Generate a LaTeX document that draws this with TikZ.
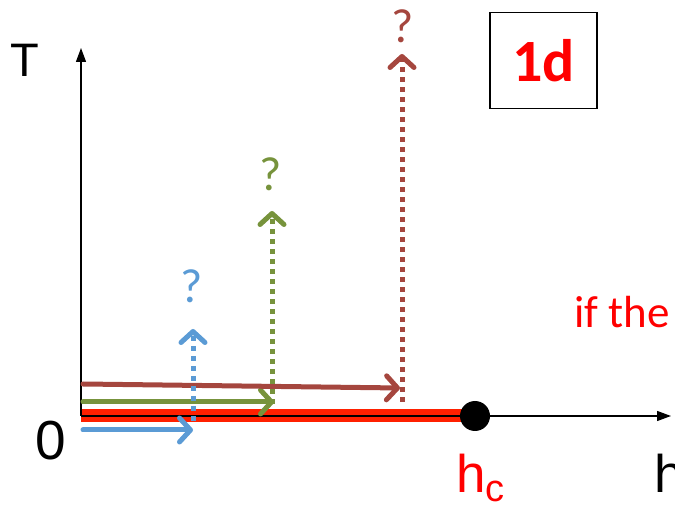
\documentclass[tikz,border=0pt]{standalone}
\usepackage{fontspec}
\setmainfont{Carlito}
\newfontfamily\arialf{Liberation Sans}
\usetikzlibrary{arrows.meta}
\definecolor{cblue}{RGB}{91,155,213}
\definecolor{cgreen}{RGB}{119,147,60}
\definecolor{cbrown}{RGB}{165,70,62}
\definecolor{cred}{RGB}{255,32,0}
\begin{document}
\begin{tikzpicture}[x=1pt,y=-1pt,
  axis/.style={line width=1.3pt,-{Triangle[length=14pt,width=10pt]}},
  path/.style={line width=5pt,line cap=round,-{Straight Barb[length=11pt,width=24pt,line width=5pt,round]}},
  probe/.style={line width=5pt,dash pattern=on 4.5pt off 5.5pt,-{Straight Barb[length=11pt,width=24pt,line width=5pt,round]}},
  lbl/.style={inner sep=0pt,anchor=base},
  qmark/.style={inner sep=0pt,font=\fontsize{48}{50}\selectfont}]
\useasboundingbox (0,0) rectangle (675,510);
% axes
\coordinate (O) at (81,416);
\coordinate (Ttop) at (81,48);
\coordinate (Hend) at (671,416);
\coordinate (hc) at (475,416);
\draw[cred,line width=13pt] (O) -- (hc);
\draw[axis] (O) -- (Ttop);
\draw[axis] (O) -- (Hend);
\fill (hc) circle (15pt);
\node[lbl,font=\arialf\fontsize{47}{50}\selectfont] (T) at (25,77) {T};
\node[lbl,font=\arialf\fontsize{55}{60}\selectfont] (zero) at (51,460) {0};
\node[lbl,anchor=base west,font=\arialf\fontsize{53}{60}\selectfont] (h) at (654,493) {h};
\node[lbl,anchor=base west,text=red,font=\arialf\fontsize{53}{60}\selectfont] (hclab) at (456,493) {h\raisebox{-9pt}{\fontsize{38}{40}\selectfont c}};
% horizontal paths
\coordinate (b0) at (83,430); \coordinate (b1) at (193,430);
\coordinate (g0) at (83,402); \coordinate (g1) at (274,402);
\coordinate (r0) at (83,384); \coordinate (r1) at (400,388);
\draw[path,cblue] (b0) -- (b1);
\draw[path,cgreen] (g0) -- (g1);
\draw[path,cbrown] (r0) -- (r1);
% vertical probes
\coordinate (bv0) at (193,421); \coordinate (bv1) at (193,329);
\coordinate (gv0) at (272,404); \coordinate (gv1) at (272,211);
\coordinate (rv0) at (402,402); \coordinate (rv1) at (402,54);
\draw[probe,cblue] (bv0) -- (bv1);
\draw[probe,cgreen] (gv0) -- (gv1);
\draw[probe,cbrown] (rv0) -- (rv1);
\node[qmark,text=cblue] (qb) at (192,286) {?};
\node[qmark,text=cgreen] (qg) at (271,174) {?};
\node[qmark,text=cbrown] (qr) at (403,26) {?};
% box
\node[draw,line width=1.5pt,minimum width=107pt,minimum height=96pt,inner sep=0pt,text=red,font=\bfseries\fontsize{60}{60}\selectfont] (box) at (543.5,60.5) {1d};
\node[lbl,anchor=base west,text=red,font=\fontsize{45}{50}\selectfont] (ifthe) at (574,328) {if the};
\end{tikzpicture}
\end{document}
